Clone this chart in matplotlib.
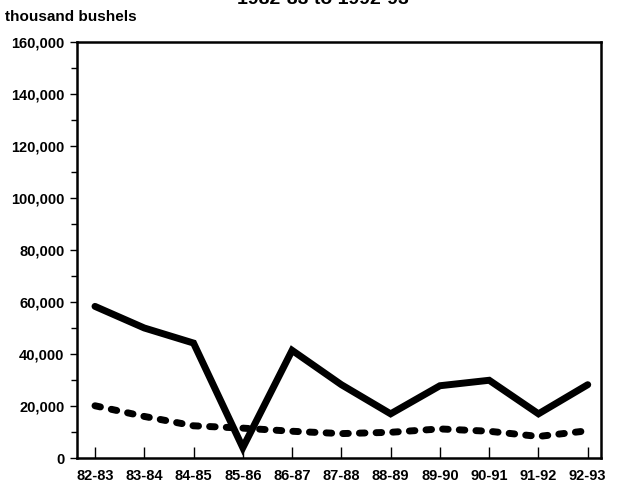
import matplotlib
matplotlib.use('Agg')
import matplotlib.pyplot as plt
from matplotlib.ticker import MultipleLocator, FuncFormatter

# marketing years and values (thousand bushels)
years = ['82-83', '83-84', '84-85', '85-86', '86-87', '87-88',
         '88-89', '89-90', '90-91', '91-92', '92-93']
solid_series = [58300, 50000, 44200, 4000, 41400, 28200,
                17000, 27800, 29900, 17000, 28200]
dotted_series = [20100, 16000, 12400, 11500, 10300, 9400,
                 9900, 11200, 10300, 8300, 10500]

plt.rcParams['font.family'] = ['Liberation Sans', 'DejaVu Sans']
plt.rcParams['font.weight'] = 'bold'

fig = plt.figure(figsize=(6.19, 4.92), dpi=100)
ax = fig.add_axes([0.124, 0.069, 0.847, 0.846])

x = list(range(len(years)))
ax.plot(x, solid_series, color='black', linewidth=5, solid_joinstyle='miter',
        solid_capstyle='round')
ax.plot(x, dotted_series, color='black', linewidth=5, linestyle=(0, (0.8, 1.6)),
        dash_capstyle='round')

ax.set_xlim(-0.37, 10.27)
ax.set_ylim(0, 160000)

ax.set_xticks(x)
ax.set_xticklabels(years)
ax.yaxis.set_major_locator(MultipleLocator(20000))
ax.yaxis.set_minor_locator(MultipleLocator(10000))
ax.yaxis.set_major_formatter(FuncFormatter(lambda v, p: f'{int(v):,}'))

ax.tick_params(axis='x', direction='in', length=8, width=1, labelsize=10.5, pad=8)
ax.tick_params(axis='y', which='major', direction='out', length=5, width=1,
               labelsize=10.5, pad=4)
ax.tick_params(axis='y', which='minor', direction='out', length=4, width=1)

for s in ax.spines.values():
    s.set_linewidth(1.8)

fig.text(0.008, 0.965, 'thousand bushels', fontsize=11, fontweight='bold',
         ha='left', va='center')
fig.text(0.522, 1.0, '1982-83 to 1992-93', fontsize=14, fontweight='bold',
         ha='center', va='center')

fig.savefig('out.png', dpi=100)
